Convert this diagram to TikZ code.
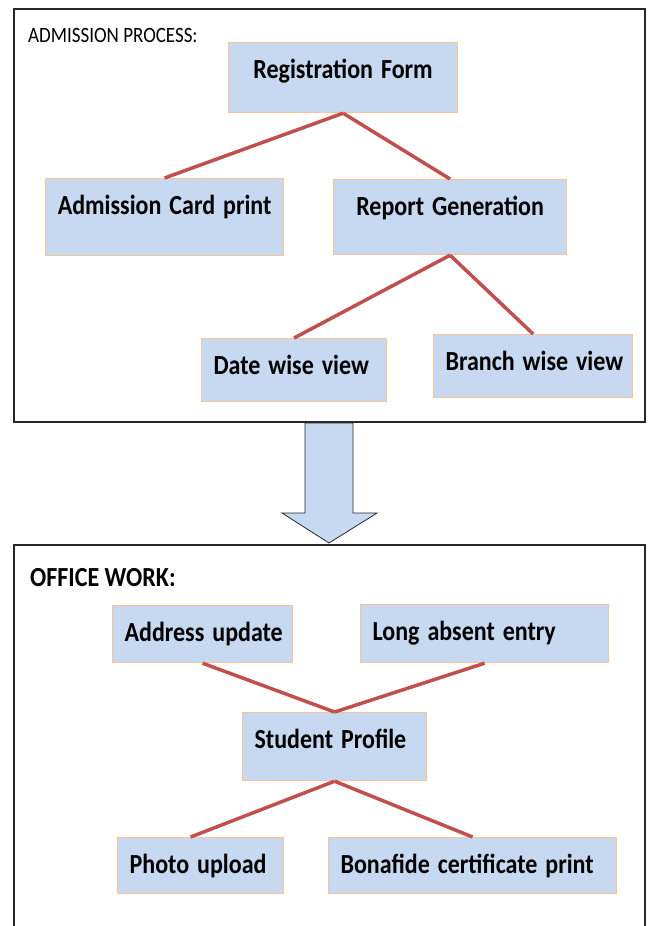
\documentclass[tikz,border=0pt]{standalone}
\usepackage{fontspec}
\setmainfont{Carlito}
\usepackage{graphicx}
\definecolor{boxfill}{RGB}{198,217,240}
\definecolor{boxline}{RGB}{248,196,150}
\definecolor{linkred}{RGB}{192,80,77}
\definecolor{frame}{RGB}{40,40,40}
\newcommand{\tall}[1]{\scalebox{1}[1.15]{#1}}

\begin{document}
\begin{tikzpicture}[x=1pt, y=-1pt,
		box/.style={draw=boxline, line width=1.2pt, fill=boxfill, anchor=north west,
			inner xsep=12pt, inner ysep=0pt, text height=36pt, align=left,
			font=\bfseries\fontsize{24}{28}\selectfont},
		link/.style={draw=linkred, line width=3.5pt},
		heading/.style={anchor=base west, inner sep=0pt}]
	\useasboundingbox (0,0) rectangle (653,926);
		% admission process
		\draw[frame, line width=2pt] (14,9) rectangle (645,422);
		\node[heading, font=\fontsize{19}{22}\selectfont] (admhead) at (28,42) {\tall{ADMISSION PROCESS:}};
		\node[box, text width=205pt, text depth=34pt, align=center] (reg) at (228,42) {\tall{Registration Form}};
		\node[box, text width=214pt, text depth=41pt, align=center] (card) at (45,178) {\tall{Admission Card print}};
		\node[box, text width=209pt, text depth=39pt, align=center] (report) at (333,179) {\tall{Report Generation}};
		\node[box, text width=161pt, text depth=27pt] (date) at (201,338) {\tall{Date wise view}};
		\node[box, text width=175pt, text depth=27pt] (branch) at (433,334) {\tall{Branch wise view}};
		\draw[link] (reg.south) -- (card.north);
		\draw[link] (reg.south) -- (report.north);
		\draw[link] (report.south) -- (date.north);
		\draw[link] (report.south) -- (branch.north);
		% big arrow
		\draw[frame, fill=boxfill, line width=0.8pt] (305,423) -- (353,423) -- (353,513) -- (377,513)
			-- (329,543) -- (282,513) -- (305,513) -- cycle;
		% office work
		\draw[frame, line width=2pt] (14,926) |- (645,545) -- (645,926);
		\node[heading, font=\bfseries\fontsize{24}{28}\selectfont] (offhead) at (30,586) {\tall{OFFICE WORK:}};
		\node[box, text width=156pt, text depth=21pt] (address) at (112,605) {\tall{Address update}};
		\node[box, text width=224pt, text depth=22pt] (absent) at (360,604) {\tall{Long absent entry}};
		\node[box, text width=160pt, text depth=32pt] (profile) at (242,712) {\tall{Student Profile}};
		\node[box, text width=142pt, text depth=20pt] (photo) at (117,837) {\tall{Photo upload}};
		\node[box, text width=264pt, text depth=20pt] (bonafide) at (328,837) {\tall{Bonafide certificate print}};
		\draw[link] (address.south) -- (profile.north);
		\draw[link] (absent.south) -- (profile.north);
		\draw[link] (profile.south) -- ([xshift=-10pt]photo.north);
		\draw[link] (profile.south) -- (bonafide.north);
	\end{tikzpicture}
\end{document}
